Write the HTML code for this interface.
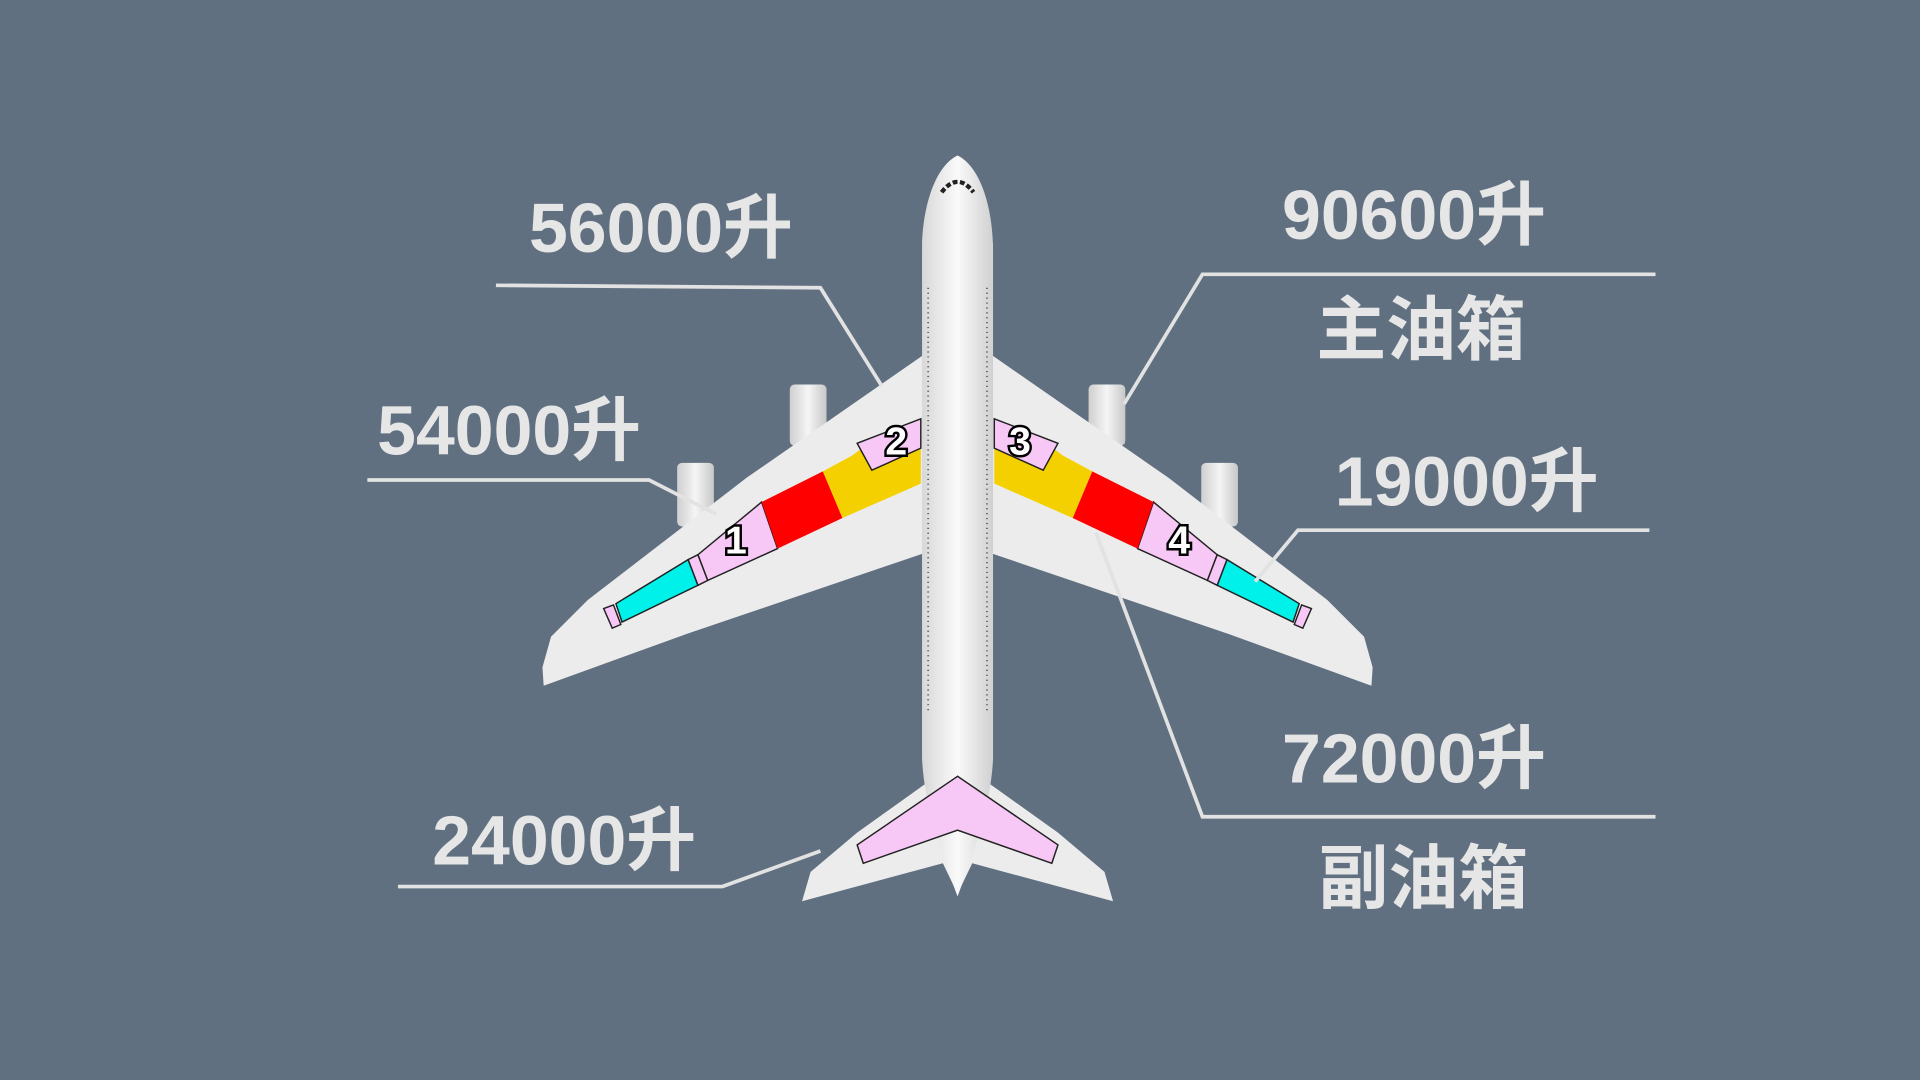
<!DOCTYPE html>
<html><head><meta charset="utf-8"><style>
html,body{margin:0;padding:0;background:#607080;}
svg{display:block;}
.t{font-family:"Liberation Sans","Noto Sans CJK SC",sans-serif;font-weight:bold;fill:#e6e6e6;font-size:57px;}
.n{font-family:"Liberation Sans",sans-serif;font-weight:bold;fill:#fff;stroke:#000;stroke-width:4;paint-order:stroke;font-size:32px;text-anchor:middle;}
.l{fill:none;stroke:#e2e2e2;stroke-width:3;}
.tk{stroke:#222;stroke-width:1.2;}
</style></head><body>
<svg width="1920" height="1080" viewBox="0 0 1568 882" xmlns="http://www.w3.org/2000/svg">
<rect width="1568" height="882" fill="#607080"/>
<defs>
<linearGradient id="fg" x1="0" x2="1"><stop offset="0" stop-color="#d8d8d8"/><stop offset="0.5" stop-color="#fafafa"/><stop offset="1" stop-color="#d0d0d0"/></linearGradient>
<linearGradient id="eg" x1="0" x2="1"><stop offset="0" stop-color="#cfcfcf"/><stop offset="0.5" stop-color="#f5f5f5"/><stop offset="1" stop-color="#c8c8c8"/></linearGradient>
</defs>
<rect x="645" y="314" width="30" height="50" rx="4" fill="url(#eg)"/>
<rect x="553" y="378" width="30" height="52" rx="4" fill="url(#eg)"/>
<rect x="889" y="314" width="30" height="50" rx="4" fill="url(#eg)"/>
<rect x="981" y="378" width="30" height="52" rx="4" fill="url(#eg)"/>
<polygon points="754,290 610,390 480,490 450,520 443,545 444,560 560,518 754,452" fill="#ececec"/>
<polygon points="810,290 954,390 1084,490 1114,520 1121,545 1120,560 1004,518 810,452" fill="#ececec"/>
<polygon points="770,630 700,680 662,712 655,736 770,705 782,730 794,705 909,736 902,712 864,680 794,630" fill="#ececec"/>
<path d="M782,127 C765,135 754,165 753,200 L753,620 C755,660 770,700 782,732 C794,700 809,660 811,620 L811,200 C810,165 799,135 782,127 Z" fill="url(#fg)"/>
<path d="M769,157 Q782,140 795,157" fill="none" stroke="#222" stroke-width="3.5" stroke-dasharray="4,2"/>
<line x1="758" y1="235" x2="758" y2="580" stroke="#666" stroke-width="1.5" stroke-dasharray="1,3"/>
<line x1="806" y1="235" x2="806" y2="580" stroke="#666" stroke-width="1.5" stroke-dasharray="1,3"/>
<polygon class="tk" points="493,497 500,513 507,510 501,494" fill="#f7c8f5"/>
<polygon class="tk" points="503,493 508,508 570,478 562,457" fill="#00f0ea"/>
<polygon class="tk" points="562,457 570,478 578,474 570,453" fill="#f7c8f5"/>
<polygon class="tk" points="570,453 578,474 635,448 622,410" fill="#f7c8f5"/>
<polygon points="622,410 635,448 688,423 672,385" fill="#f00"/>
<polygon points="672,385 688,423 752,395 752,365 722,378 712,360 696,372" fill="#f5d000"/>
<polygon class="tk" points="700,362 712,384 752,366 752,342" fill="#f7c8f5"/>
<polygon class="tk" points="1071,497 1064,513 1057,510 1063,494" fill="#f7c8f5"/>
<polygon class="tk" points="1061,493 1056,508 994,478 1002,457" fill="#00f0ea"/>
<polygon class="tk" points="1002,457 994,478 986,474 994,453" fill="#f7c8f5"/>
<polygon class="tk" points="994,453 986,474 929,448 942,410" fill="#f7c8f5"/>
<polygon points="942,410 929,448 876,423 892,385" fill="#f00"/>
<polygon points="892,385 876,423 812,395 812,365 842,378 852,360 868,372" fill="#f5d000"/>
<polygon class="tk" points="864,362 852,384 812,366 812,342" fill="#f7c8f5"/>
<polygon class="tk" points="782,634 700,690 705,705 782,678 859,705 864,690" fill="#f7c8f5"/>
<text class="n" x="601" y="452">1</text>
<text class="n" x="732" y="371">2</text>
<text class="n" x="833" y="371">3</text>
<text class="n" x="963" y="452">4</text>
<polyline class="l" points="405,233 670,235 720,315"/>
<polyline class="l" points="1352,224 982,224 918,330"/>
<polyline class="l" points="300,392 530,392 585,420"/>
<polyline class="l" points="1347,433 1060,433 1025,475"/>
<polyline class="l" points="1352,667 982,667 895,435"/>
<polyline class="l" points="325,724 590,724 670,695"/>
<text class="t" x="432" y="206">56000升</text>
<text class="t" x="1047" y="195">90600升</text>
<text class="t" x="1075" y="289">主油箱</text>
<text class="t" x="308" y="371">54000升</text>
<text class="t" x="1090" y="413">19000升</text>
<text class="t" x="1047" y="639">72000升</text>
<text class="t" x="1077" y="737">副油箱</text>
<text class="t" x="353" y="706">24000升</text>
</svg>
</body></html>
